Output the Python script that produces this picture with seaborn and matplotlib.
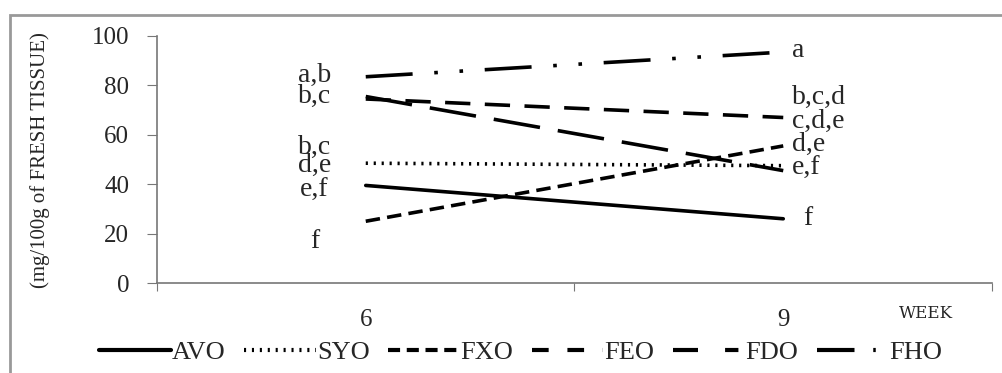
import numpy as np
import pandas as pd
import seaborn as sns
import matplotlib.pyplot as plt
from matplotlib.lines import Line2D
from matplotlib.patches import Rectangle

weeks = [6, 9]
treatments = ['AVO', 'SYO', 'FXO', 'FEO', 'FDO', 'FHO']
avo = [39.5, 26]
syo = [48.5, 47.5]
fxo = [25, 55.5]
feo = [74.5, 67]
fdo = [75.5, 45.5]
fho = [83.5, 93.5]

# significance letters beside the points
letters6 = ['a,b', 'b,c', 'b,c', 'd,e', 'e,f', 'f']
letters6_y = [84, 75.5, 55, 47.5, 37.5, 17]
letters9 = ['a', 'b,c,d', 'c,d,e', 'd,e', 'e,f', 'f']
letters9_y = [94, 75, 65.5, 56, 46.5, 26]

df = pd.DataFrame({
    'week': weeks * len(treatments),
    'value': avo + syo + fxo + feo + fdo + fho,
    'treatment': np.repeat(treatments, len(weeks)),
})

dashes = {'AVO': '', 'SYO': (0.6, 1.6), 'FXO': (4, 2), 'FEO': (7, 4),
          'FDO': (13, 5), 'FHO': (13, 6, 1, 6, 1, 6)}
# the legend samples are short, so they use their own cut of each pattern
legend_dashes = {'AVO': None, 'SYO': (0.5, 1.4), 'FXO': (2.9, 1.6), 'FEO': (4, 4.5),
                 'FDO': (6, 6.5, 3.2, 10), 'FHO': (9, 4.5, 0.6, 12)}

sns.set_style('ticks')
plt.rcParams['font.family'] = ['Liberation Serif', 'DejaVu Serif']

fig = plt.figure(figsize=(10.03, 3.73), dpi=100)
ax = fig.add_axes([157/1003, 1-283/373, (992-157)/1003, (283-36)/373])

sns.lineplot(data=df, x='week', y='value', style='treatment', dashes=dashes,
             color='black', linewidth=2.6, legend=False, ax=ax)

for t, y in zip(letters6, letters6_y):
    ax.annotate(t, (6, y), xytext=(-37, 0), textcoords='offset points',
                ha='center', va='center', fontsize=20)
for t, y in zip(letters9, letters9_y):
    dx = 14 if t == 'f' else 6
    ax.annotate(t, (9, y), xytext=(dx, 0), textcoords='offset points',
                ha='left', va='center', fontsize=20)

ax.set_ylim(0, 100)
ax.set_yticks(range(0, 101, 20))
ax.set_xlim(4.5, 10.5)
ax.set_xticks([4.5, 7.5, 10.5])
ax.set_xticklabels([])
ax.set_xticks(weeks, minor=True)
ax.set_xticklabels([str(w) for w in weeks], minor=True)
ax.tick_params(axis='x', which='minor', length=0, pad=19, labelsize=18)
ax.tick_params(axis='x', which='major', length=6, color='#777777')
ax.tick_params(axis='y', length=7, pad=13, labelsize=18, color='#777777')
ax.set_xlabel('')
ax.set_ylabel('')
sns.despine(ax=ax)
for s in ['left', 'bottom']:
    ax.spines[s].set_color('#777777')
    ax.spines[s].set_linewidth(1.2)

fig.text(40/1003, 1-160/373, '(mg/100g of FRESH TISSUE)', rotation=90,
         ha='center', va='center', fontsize=15)
fig.text(926/1003, 1-313/373, 'WEEK', ha='center', va='center', fontsize=12,
         family='DejaVu Serif')

handles = []
for t in treatments:
    h = Line2D([], [], color='black', linewidth=3)
    if legend_dashes[t]:
        h.set_dashes(legend_dashes[t])
    handles.append(h)
fig.legend(handles, treatments, loc='center', bbox_to_anchor=(521/1003, 1-352/373),
           ncol=6, frameon=False, handlelength=2.7, handletextpad=0.05,
           columnspacing=0.7, fontsize=19)

fig.patches.append(Rectangle((10/1003, -0.2), 1.2, 1.2 - 15/373, transform=fig.transFigure,
                             fill=False, edgecolor='#999999', linewidth=2))

fig.savefig('out.png', dpi=100)
